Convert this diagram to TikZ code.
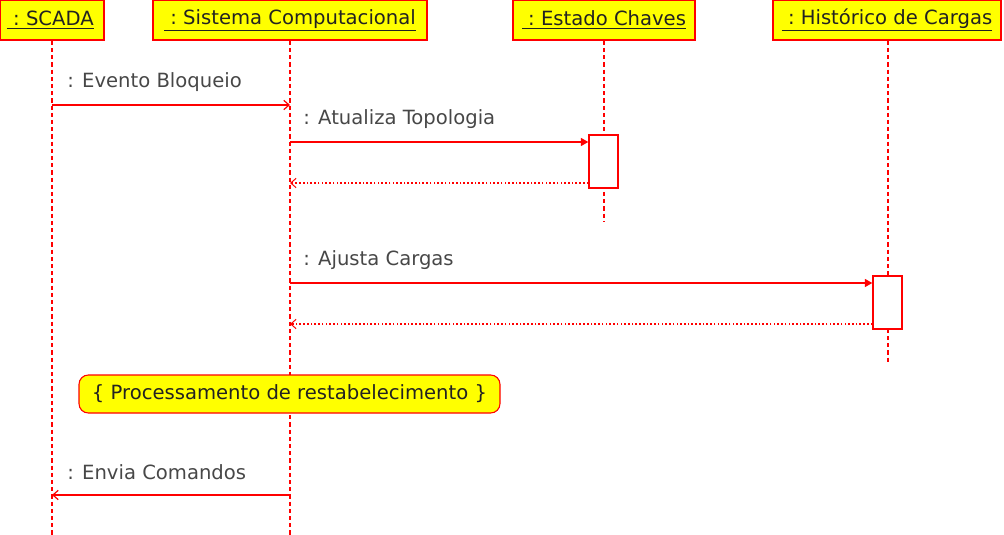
\documentclass[tikz,border=0pt]{standalone}
\usepackage{fontspec}
\setmainfont{DejaVu Sans}
\usetikzlibrary{arrows.meta}
\definecolor{uired}{HTML}{FF0000}
\definecolor{uiyellow}{HTML}{FFFF00}
\definecolor{lbl}{HTML}{474747}
\definecolor{htxt}{HTML}{222222}
\newcommand{\fsz}{\fontsize{14.7}{17}\selectfont}
\newcommand{\hdr}[1]{\raisebox{-1.5pt}{\underline{\ :\ #1}}}
\begin{document}
\begin{tikzpicture}[x=0.75pt,y=-0.75pt,
  header/.style={draw=uired,fill=uiyellow,line width=1.2pt,inner sep=0pt,minimum height=30pt,font=\fsz,text=htxt},
  lifeline/.style={draw=uired,dash pattern=on 3.2pt off 2.2pt,line width=0.9pt},
  msg/.style={draw=uired,line width=0.9pt,-{Straight Barb[length=4pt,width=7pt]}},
  call/.style={draw=uired,line width=0.9pt,-{Triangle[length=5.5pt,width=6pt]}},
  ret/.style={draw=uired,line width=0.9pt,dash pattern=on 1.2pt off 1.6pt,-{Straight Barb[length=4pt,width=7pt,line width=0.75pt]}},
  lab/.style={anchor=west,text=lbl,font=\fsz,inner sep=0pt},
  act/.style={draw=uired,fill=white,line width=1.1pt,minimum width=21.75pt,minimum height=39.75pt,inner sep=0pt},
  note/.style={draw=uired,fill=uiyellow,rounded corners=7pt,line width=0.8pt,inner sep=0pt,minimum width=315.75pt,minimum height=28.5pt,font=\fsz,text=htxt}]
\useasboundingbox (0,0) rectangle (1004,535);
% headers
\node[header,minimum width=78pt] (scada) at (52,20) {\hdr{SCADA}\,};
\node[header,minimum width=205.5pt] (sist) at (290,20) {\hdr{Sistema Computacional}};
\node[header,minimum width=136.5pt] (est) at (604,20) {\hdr{Estado Chaves}};
\node[header,minimum width=171pt] (hist) at (887,20) {\hdr{Histórico de Cargas}};
% lifeline ends
\coordinate (scadaE) at (52,535);
\coordinate (sistE) at (290,535);
\coordinate (estE) at (604,222);
\coordinate (histE) at (888,363);
\draw[lifeline] (scada.south) -- (scadaE);
\draw[lifeline] (sist.south) -- (sistE);
\draw[lifeline] (est.south) -- (estE);
\draw[lifeline] (hist.south -| histE) -- (histE);
% activations
\node[act] (a1) at (603.5,161.5) {};
\node[act] (a2) at (887.5,302.5) {};
% message points
\coordinate (m1s) at (52,105); \coordinate (m1e) at (290,105);
\coordinate (m2s) at (290,142);
\coordinate (r1e) at (290,183);
\coordinate (m3s) at (290,283);
\coordinate (r2e) at (290,324);
\coordinate (m4s) at (290,495); \coordinate (m4e) at (52,495);
\draw[msg] (m1s) -- (m1e);
\node[lab] (l1) at (67,82) {: Evento Bloqueio};
\draw[call] (m2s) -- (m2s -| a1.west);
\node[lab] (l2) at (303,119) {: Atualiza Topologia};
\draw[ret] (r1e -| a1.west) -- (r1e);
\draw[call] (m3s) -- (m3s -| a2.west);
\node[lab] (l3) at (303,260) {: Ajusta Cargas};
\draw[ret] (r2e -| a2.west) -- (r2e);
% note
\node[note] (nt) at (289.5,394) {\{ Processamento de restabelecimento \}};
\draw[msg] (m4s) -- (m4e);
\node[lab] (l4) at (67,472) {: Envia Comandos};
\end{tikzpicture}
\end{document}
